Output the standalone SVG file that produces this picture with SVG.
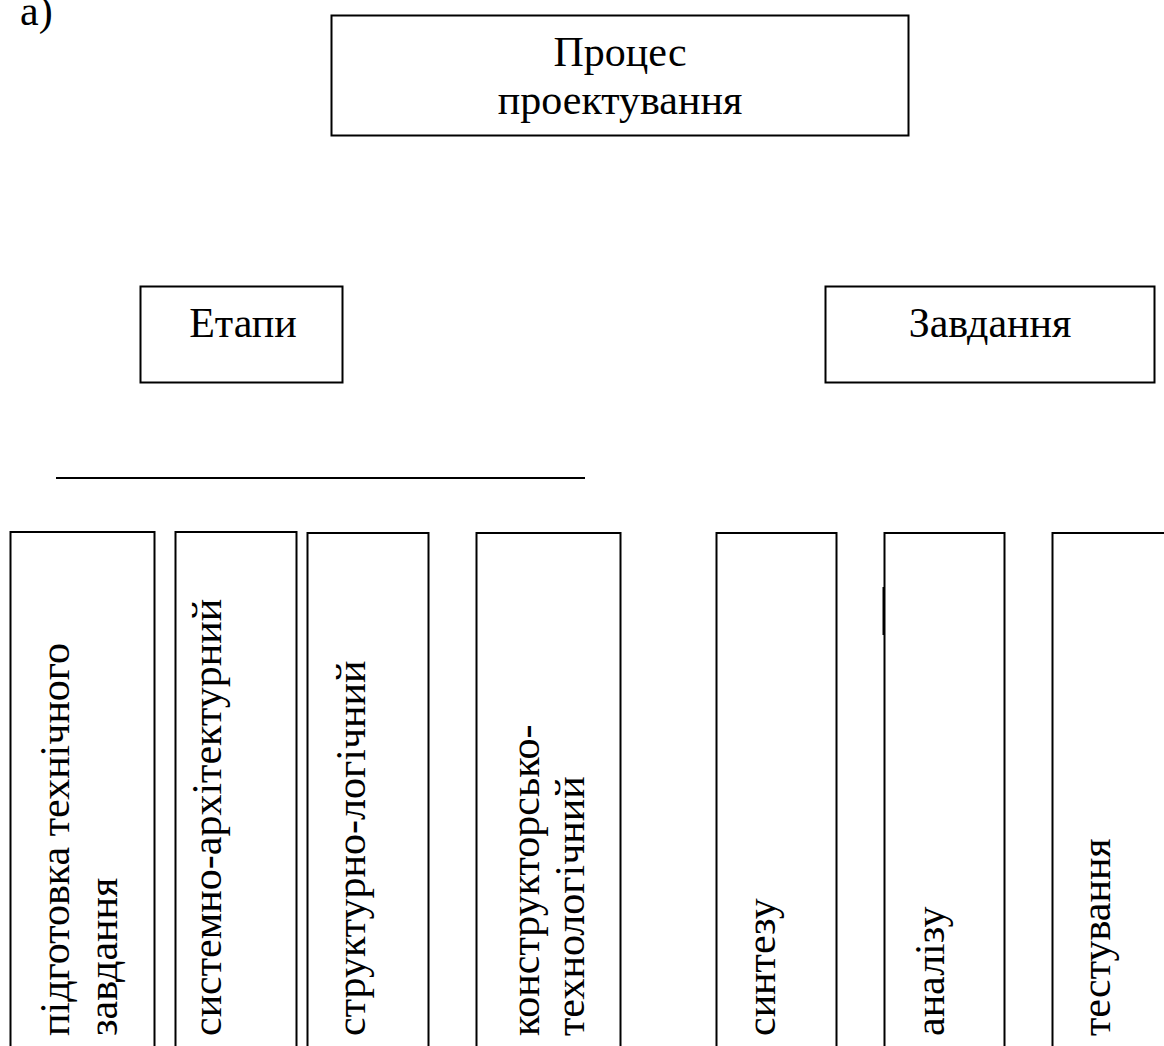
<svg xmlns="http://www.w3.org/2000/svg" width="1164" height="1046" viewBox="0 0 1164 1046">
<style>
  .box { fill: #fff; stroke: #000; stroke-width: 2; }
  .t { font-family: "Liberation Serif", "Times New Roman", serif; font-size: 42px; fill: #000; }
  .c { text-anchor: middle; }
  .ln { stroke: #000; stroke-width: 2; fill: none; }
</style>
<rect width="1164" height="1046" fill="#fff"/>
<text class="t" x="20" y="25">а)</text>

<g id="node-process">
  <rect class="box" x="331.5" y="15.5" width="577" height="120"/>
  <text class="t c" x="620" y="66">Процес</text>
  <text class="t c" x="620" y="114">проектування</text>
</g>

<g id="node-etapy">
  <rect class="box" x="140.5" y="286.5" width="202" height="96"/>
  <text class="t c" x="243" y="337">Етапи</text>
</g>

<g id="node-zavdannia">
  <rect class="box" x="825.5" y="286.5" width="329" height="96"/>
  <text class="t c" x="990" y="337">Завдання</text>
</g>

<g id="connectors">
  <line class="ln" x1="56" y1="478" x2="585" y2="478"/>
</g>

<g id="node-stage1">
  <rect class="box" x="10.5" y="532" width="144" height="540"/>
  <text class="t" transform="translate(69,1036) rotate(-90)">підготовка технічного</text>
  <text class="t" transform="translate(117,1036) rotate(-90)">завдання</text>
</g>

<g id="node-stage2">
  <rect class="box" x="175.5" y="532" width="121" height="540"/>
  <text class="t" transform="translate(221,1036) rotate(-90)">системно-архітектурний</text>
</g>

<g id="node-stage3">
  <rect class="box" x="307.5" y="533" width="121" height="540"/>
  <text class="t" transform="translate(365,1036) rotate(-90)">структурно-логічний</text>
</g>

<g id="node-stage4">
  <rect class="box" x="476.5" y="533" width="144" height="540"/>
  <text class="t" transform="translate(539,1036) rotate(-90)">конструкторсько-</text>
  <text class="t" transform="translate(584,1036) rotate(-90)">технологічний</text>
</g>

<g id="node-task1">
  <rect class="box" x="716.5" y="533" width="120" height="540"/>
  <text class="t" transform="translate(775,1036) rotate(-90)">синтезу</text>
</g>

<g id="node-task2">
  <rect class="box" x="884.5" y="533" width="120" height="540"/>
  <line class="ln" x1="883.5" y1="587" x2="883.5" y2="635"/>
  <text class="t" transform="translate(944,1036) rotate(-90)">аналізу</text>
</g>

<g id="node-task3">
  <rect class="box" x="1052.5" y="533" width="140" height="540"/>
  <text class="t" transform="translate(1110,1036) rotate(-90)">тестування</text>
</g>
</svg>
